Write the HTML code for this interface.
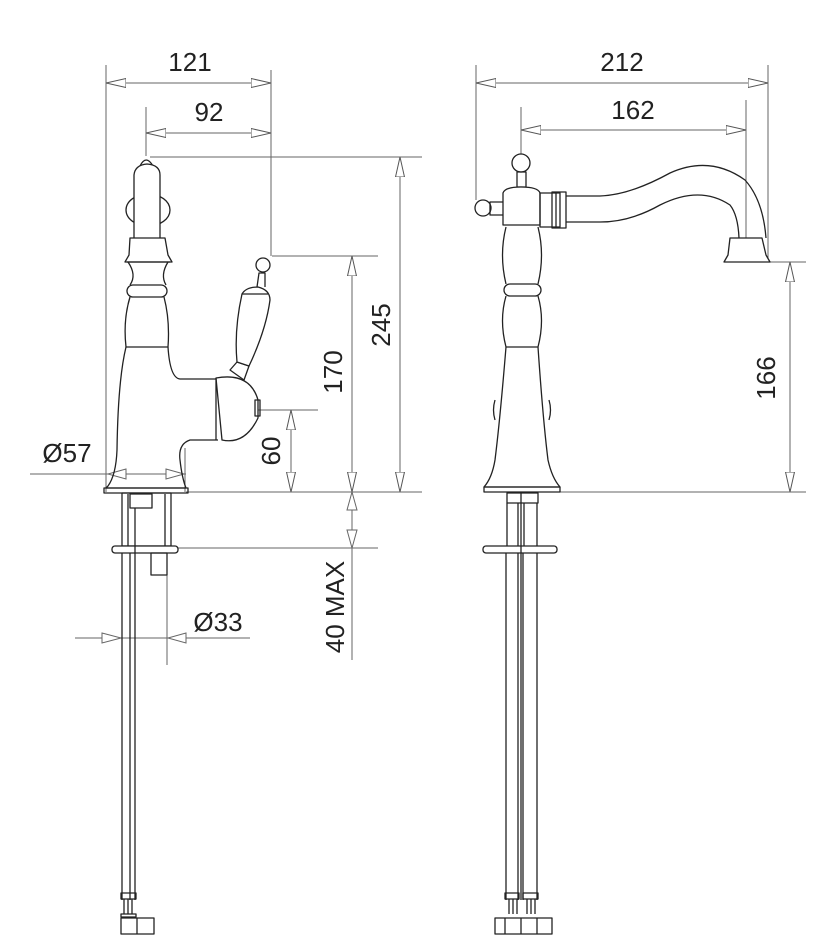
<!DOCTYPE html>
<html><head><meta charset="utf-8"><style>
html,body{margin:0;padding:0;background:#fff;}
svg{display:block}
text{font-family:"Liberation Sans",Arial,sans-serif;fill:#222;font-size:26px}
</style></head><body>
<svg width="828" height="950" viewBox="0 0 828 950" xmlns="http://www.w3.org/2000/svg">
<defs>
<marker id="a" viewBox="0 0 20 10" refX="20" refY="5" markerWidth="20" markerHeight="10" orient="auto-start-reverse" markerUnits="userSpaceOnUse"><path d="M0,0.5 L20,5 L0,9.5 Z" fill="#fff" stroke="#555" stroke-width="1"/></marker>
</defs>
<g stroke="#666" stroke-width="1" fill="none">
<line x1="106" y1="65" x2="106" y2="492"/>
<line x1="271" y1="70" x2="271" y2="256"/>
<line x1="106" y1="83" x2="271" y2="83" marker-start="url(#a)" marker-end="url(#a)"/>
<line x1="146" y1="107" x2="146" y2="156"/>
<line x1="146" y1="133" x2="271" y2="133" marker-start="url(#a)" marker-end="url(#a)"/>
<line x1="150" y1="157" x2="422" y2="157"/>
<line x1="400" y1="157" x2="400" y2="492" marker-start="url(#a)" marker-end="url(#a)"/>
<line x1="272" y1="256" x2="378" y2="256"/>
<line x1="352" y1="256" x2="352" y2="492" marker-start="url(#a)" marker-end="url(#a)"/>
<line x1="258" y1="410" x2="318" y2="410"/>
<line x1="291" y1="410" x2="291" y2="492" marker-start="url(#a)" marker-end="url(#a)"/>
<line x1="186" y1="492" x2="422" y2="492"/>
<line x1="185" y1="448" x2="185" y2="492"/>
<line x1="30" y1="474" x2="186" y2="474"/>
<path d="M126,469 L108,474 L126,479 Z M166,469 L184,474 L166,479 Z" fill="#fff"/>
<line x1="178" y1="548" x2="378" y2="548"/>
<line x1="352" y1="492" x2="352" y2="660"/>
<path d="M347,510 L352,492 L357,510 Z M347,530 L352,548 L357,530 Z" fill="#fff"/>
<line x1="122" y1="548" x2="122" y2="665"/>
<line x1="167" y1="575" x2="167" y2="665"/>
<line x1="75" y1="638" x2="250" y2="638"/>
<path d="M102,633 L121,638 L102,643 Z M186,633 L168,638 L186,643 Z" fill="#fff"/>
<line x1="476" y1="65" x2="476" y2="200"/>
<line x1="768" y1="65" x2="768" y2="262"/>
<line x1="476" y1="83" x2="768" y2="83" marker-start="url(#a)" marker-end="url(#a)"/>
<line x1="521" y1="107" x2="521" y2="155"/>
<line x1="746" y1="100" x2="746" y2="262"/>
<line x1="521" y1="130" x2="746" y2="130" marker-start="url(#a)" marker-end="url(#a)"/>
<line x1="768" y1="262" x2="806" y2="262"/>
<line x1="790" y1="262" x2="790" y2="492" marker-start="url(#a)" marker-end="url(#a)"/>
<line x1="560" y1="492" x2="806" y2="492"/>
</g>
<g fill="#222">
<text x="190" y="71" text-anchor="middle">121</text>
<text x="209" y="121" text-anchor="middle">92</text>
<text x="67" y="462" text-anchor="middle">Ø57</text>
<text x="218" y="631" text-anchor="middle">Ø33</text>
<text transform="translate(390,325) rotate(-90)" text-anchor="middle">245</text>
<text transform="translate(342,372) rotate(-90)" text-anchor="middle">170</text>
<text transform="translate(280,451) rotate(-90)" text-anchor="middle">60</text>
<text transform="translate(344,607) rotate(-90)" text-anchor="middle">40 MAX</text>
<text x="622" y="71" text-anchor="middle">212</text>
<text x="633" y="119" text-anchor="middle">162</text>
<text transform="translate(775,378) rotate(-90)" text-anchor="middle">166</text>
</g>
<g stroke="#222" stroke-width="1.3" fill="none" stroke-linejoin="round">
<path d="M140,166 Q146,154 153,166"/>
<ellipse cx="148" cy="210" rx="22" ry="16"/>
<path d="M134,238 L134,175 Q135,165 147,164 Q160,165 160,175 L160,238" fill="#fff"/>
<path d="M130,238 L165,238 L168,255 L172,262 L125,262 L129,255 Z" fill="#fff"/>
<path d="M127,262 L170,262 M128,262 Q137,275 130,285 M168,262 Q160,275 166,285"/>
<rect x="127" y="285" width="40" height="12" rx="6"/>
<path d="M130,297 Q123,320 126,347 L168,347 Q170,320 164,297"/>
<path d="M126,347 Q118,380 117,450 Q116,475 108,486 L106,488 L186,488 Q182,478 180,460 Q178,444 190,440 L218,440 M168,347 Q170,378 180,379 L218,379"/>
<path d="M216,378 Q250,372 258,400 L258,418 Q245,445 222,440 Z" fill="#fff"/>
<path d="M216,378 L216,440"/>
<rect x="255" y="400" width="5" height="16"/>
<rect x="104" y="488" width="84" height="5"/>
<path d="M230,370 L237,362 L249,366 L244,380 Z" fill="#fff"/>
<path d="M237,362 Q234,330 242,294 Q246,287 258,287 Q270,290 270,300 Q266,330 249,366 Z" fill="#fff"/>
<path d="M242,294 L268,294"/>
<path d="M257,287 L259,273 L265,273 L265,287"/>
<circle cx="263" cy="265" r="7" fill="#fff"/>
<rect x="122" y="493" width="49" height="53"/>
<path d="M128,494 L128,546 M165,494 L165,546"/>
<rect x="130" y="494" width="22" height="14"/>
<rect x="112" y="546" width="66" height="7" rx="3" fill="#fff"/>
<rect x="151" y="553" width="16" height="22"/>
<path d="M122,553 L122,900 M135,508 L135,900 M130,553 L130,900"/>
<rect x="121" y="893" width="15" height="6"/>
<path d="M124,899 L124,914 M128,899 L128,914 M132,899 L132,914"/>
<rect x="121" y="914" width="15" height="3"/>
<rect x="121" y="918" width="33" height="16"/>
<path d="M137,918 L137,934"/>
<circle cx="521" cy="163" r="9" fill="#fff"/>
<rect x="517" y="172" width="9" height="15"/>
<circle cx="483" cy="208" r="8" fill="#fff"/>
<rect x="490" y="202" width="14" height="13"/>
<path d="M503,225 L503,193 Q505,187 521,187 Q538,187 540,193 L540,225 Z" fill="#fff"/>
<rect x="540" y="193" width="20" height="34"/>
<rect x="552" y="192" width="14" height="36"/>
<path d="M556,192 L556,228"/>
<path d="M566,196 L600,196 Q630,195 670,173 Q710,155 745,180 Q763,200 766,238"/>
<path d="M566,222 L600,222 Q630,222 660,205 Q700,185 730,205 Q738,215 739,238"/>
<path d="M730,238 L762,238 L766,255 L770,262 L724,262 L728,255 Z" fill="#fff"/>
<path d="M506,227 Q499,255 506,284 M538,227 Q545,255 538,284"/>
<rect x="504" y="284" width="37" height="12" rx="6"/>
<path d="M506,296 Q499,320 506,347 M538,296 Q545,320 538,347 M506,347 L538,347"/>
<path d="M506,347 Q500,420 495,460 Q492,478 484,487 L560,487 Q552,478 548,460 Q543,420 538,347"/>
<path d="M495,400 Q492,410 495,420 M549,400 Q552,410 549,420"/>
<rect x="484" y="487" width="76" height="5"/>
<rect x="507" y="493" width="31" height="10"/>
<path d="M507,503 L507,546 M518,503 L518,546 M524,503 L524,546 M537,503 L537,546"/>
<rect x="483" y="546" width="74" height="7" rx="3" fill="#fff"/>
<path d="M506,553 L506,900 M518,553 L518,900 M523,553 L523,900 M537,553 L537,900 M521,492 L521,900"/>
<rect x="505" y="893" width="14" height="6"/><rect x="523" y="893" width="15" height="6"/>
<path d="M509,899 L509,914 M513,899 L513,914 M517,899 L517,914 M527,899 L527,914 M531,899 L531,914 M535,899 L535,914"/>
<rect x="495" y="918" width="57" height="16"/>
<path d="M505,918 L505,934 M521,918 L521,934 M537,918 L537,934"/>
</g>
</svg>
</body></html>
